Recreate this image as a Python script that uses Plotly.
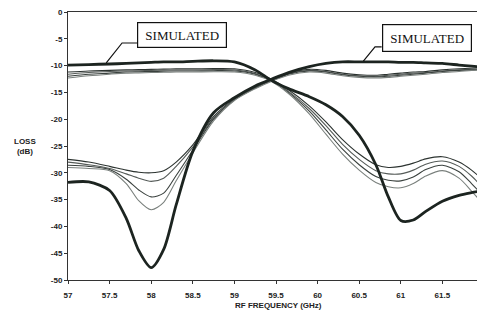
import plotly.graph_objects as go

# Frequency points (GHz)
freq = [57, 57.25, 57.5, 57.7, 57.85, 58, 58.15, 58.3, 58.5, 58.75, 59, 59.25, 59.45,
        59.65, 59.9, 60.1, 60.3, 60.5, 60.7, 60.85, 61, 61.15, 61.3, 61.5, 61.7, 61.85, 62]

# Filter with passband at high frequency (notch near 58 GHz)
sim_high = [-31.8, -31.7, -33.3, -38.5, -44.5, -47.7, -44.3, -36.0, -26.0, -18.8, -16.0, -13.8, -12.5,
            -11.3, -10.2, -9.6, -9.3, -9.3, -9.3, -9.3, -9.4, -9.4, -9.5, -9.6, -9.9, -10.1, -10.3]
meas_high_a = [-27.5, -28.0, -28.8, -29.5, -29.9, -30.0, -29.6, -28.0, -24.8, -19.5, -16.2, -14.0, -12.6,
               -11.4, -10.7, -10.9, -11.4, -11.7, -11.8, -11.6, -11.4, -11.2, -11.1, -10.8, -10.6, -10.5, -10.4]
meas_high_b = [-28.0, -28.5, -29.2, -30.2, -31.0, -31.6, -31.0, -28.8, -25.2, -19.8, -16.3, -14.1, -12.7,
               -11.5, -10.9, -11.1, -11.6, -11.9, -12.0, -11.8, -11.6, -11.4, -11.3, -11.0, -10.8, -10.7, -10.6]
meas_high_c = [-28.6, -28.8, -29.4, -31.2, -33.2, -34.5, -33.8, -30.5, -25.8, -20.0, -16.4, -14.2, -12.8,
               -11.6, -11.0, -11.2, -11.7, -12.0, -12.1, -12.0, -11.8, -11.6, -11.4, -11.1, -10.9, -10.8, -10.7]
meas_high_d = [-29.0, -29.2, -29.6, -32.0, -35.2, -36.9, -35.5, -31.5, -26.3, -20.3, -16.5, -14.3, -12.9,
               -11.8, -11.2, -11.4, -11.9, -12.2, -12.3, -12.2, -12.0, -11.8, -11.6, -11.3, -11.1, -10.9, -10.8]

# Filter with passband at low frequency (notch near 61 GHz)
sim_low = [-9.9, -9.8, -9.7, -9.6, -9.5, -9.4, -9.3, -9.3, -9.2, -9.1, -9.3, -10.8, -12.8,
           -14.3, -15.8, -17.3, -19.5, -23.0, -28.5, -34.5, -38.9, -38.8, -37.2, -35.3, -34.2, -33.7, -33.3]
meas_low_e = [-11.2, -11.0, -10.9, -10.8, -10.75, -10.7, -10.65, -10.6, -10.6, -10.55, -10.6, -11.3, -12.6,
              -14.5, -17.5, -20.5, -23.8, -26.5, -28.5, -29.0, -28.8, -28.2, -27.4, -27.0, -28.0, -29.5, -31.5]
meas_low_f = [-11.6, -11.3, -11.1, -11.0, -10.95, -10.9, -10.85, -10.8, -10.8, -10.75, -10.8, -11.5, -12.8,
              -14.8, -18.0, -21.2, -24.7, -27.5, -29.6, -30.2, -30.2, -29.5, -28.4, -27.8, -28.8, -30.6, -33.0]
meas_low_g = [-12.0, -11.6, -11.4, -11.2, -11.15, -11.1, -11.05, -11.0, -11.0, -10.95, -11.0, -11.6, -12.9,
              -15.0, -18.5, -22.0, -25.6, -28.5, -30.7, -31.4, -31.5, -30.8, -29.4, -28.6, -29.8, -32.0, -34.5]
meas_low_h = [-12.3, -11.9, -11.6, -11.4, -11.35, -11.3, -11.25, -11.2, -11.2, -11.15, -11.2, -11.8, -13.0,
              -15.2, -19.0, -22.8, -26.5, -29.5, -31.8, -32.6, -32.8, -32.0, -30.6, -29.6, -31.0, -33.4, -36.0]

x_ticks = [57, 57.5, 58, 58.5, 59, 59.5, 60, 60.5, 61, 61.5, 62]
x_tick_labels = ["57", "57.5", "58", "58.5", "59", "59.5", "60", "60.5", "61", "61.5", "62"]
y_ticks = [0, -5, -10, -15, -20, -25, -30, -35, -40, -45, -50]
y_tick_labels = ["0", "-5", "-10", "-15", "-20", "-25", "-30", "-35", "-40", "-45", "-50"]

fig = go.Figure()

thin = [
    (meas_high_a, "#2c3330"), (meas_high_b, "#555b58"), (meas_high_c, "#3a413e"), (meas_high_d, "#7a807d"),
    (meas_low_e, "#2c3330"), (meas_low_f, "#555b58"), (meas_low_g, "#3a413e"), (meas_low_h, "#7a807d"),
]
for ys, col in thin:
    fig.add_trace(go.Scatter(x=freq, y=ys, mode="lines",
                             line=dict(color=col, width=1.1, shape="spline", smoothing=0.8),
                             showlegend=False, hoverinfo="skip"))
for ys in (sim_high, sim_low):
    fig.add_trace(go.Scatter(x=freq, y=ys, mode="lines",
                             line=dict(color="#1c2420", width=2.8, shape="spline", smoothing=0.8),
                             showlegend=False, hoverinfo="skip"))

tickfont = dict(family="Liberation Sans, Arial", size=8, color="#222222", weight="bold")

fig.update_xaxes(range=[57, 62], tickvals=x_ticks, ticktext=x_tick_labels,
                 showline=True, linecolor="#333333", linewidth=1, mirror=True,
                 ticks="outside", ticklen=3, tickcolor="#333333",
                 showgrid=False, zeroline=False, tickfont=tickfont,
                 ticklabelstandoff=4, ticklabeloverflow="allow", automargin=False)
fig.update_yaxes(range=[-50, 0], tickvals=y_ticks, ticktext=y_tick_labels,
                 showline=True, linecolor="#333333", linewidth=1,
                 ticks="outside", ticklen=3, tickcolor="#333333",
                 showgrid=False, zeroline=False, tickfont=tickfont,
                 ticklabeloverflow="allow", automargin=False)

box_font = dict(family="Liberation Serif, Times New Roman", size=13, color="#111111")
fig.add_annotation(x=58.37, y=-4.2, xref="x", yref="y", text="SIMULATED", showarrow=False,
                   font=box_font, bordercolor="#111111", borderwidth=1.2, borderpad=1,
                   bgcolor="white", width=86, height=22)
fig.add_annotation(x=61.32, y=-4.8, xref="x", yref="y", text="SIMULATED", showarrow=False,
                   font=box_font, bordercolor="#111111", borderwidth=1.2, borderpad=1,
                   bgcolor="white", width=86, height=24)

# leader lines
fig.add_shape(type="path", xref="x", yref="y",
              path="M 57.83 -5.78 L 57.65 -5.78 L 57.46 -9.5",
              line=dict(color="#111111", width=1.2))
fig.add_shape(type="path", xref="x", yref="y",
              path="M 60.77 -6.5 L 60.69 -6.5 L 60.55 -9.15",
              line=dict(color="#111111", width=1.2))

lab_font = dict(family="Liberation Sans, Arial", size=8, color="#222222", weight="bold")
fig.add_annotation(x=-0.103, y=0.5, xref="paper", yref="paper", text="LOSS<br>(dB)",
                   showarrow=False, font=lab_font, xanchor="center", yanchor="middle")
fig.add_annotation(x=0.505, y=-0.097, xref="paper", yref="paper", text="RF FREQUENCY (GHz)",
                   showarrow=False, font=lab_font, xanchor="center", yanchor="middle")

# page body has an 8px margin, so the figure is sized/margined to land the plot area in place
fig.update_layout(width=477, height=312, margin=dict(l=60, r=1, t=4, b=40),
                  plot_bgcolor="white", paper_bgcolor="white")

fig.write_html("out.html")
